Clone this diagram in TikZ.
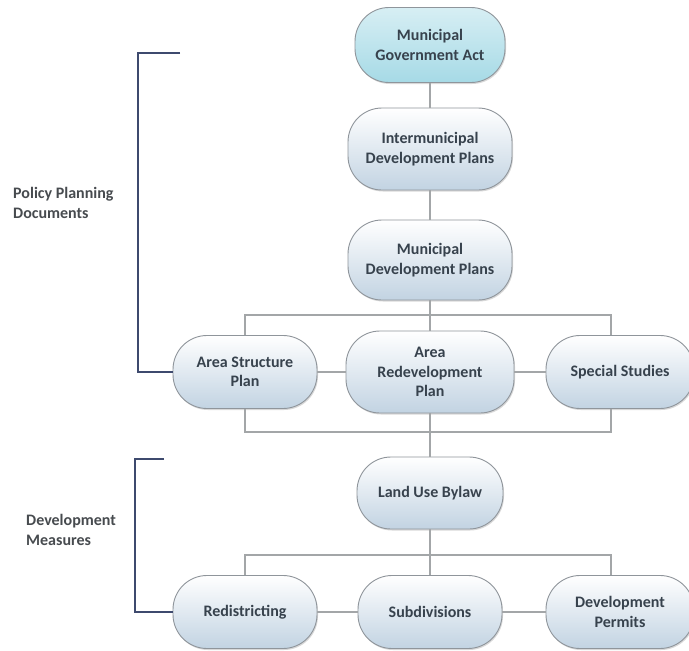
\documentclass[tikz,border=0pt]{standalone}
\usepackage{fontspec}
\setmainfont{Carlito}
\usetikzlibrary{shadows}
\definecolor{boxline}{HTML}{8F959B}
\definecolor{boxblue}{HTML}{C2D3E2}
\definecolor{boxcyan}{HTML}{A6DAE6}
\definecolor{boxtext}{HTML}{37424D}
\definecolor{linkgray}{HTML}{A3A6A8}
\definecolor{bracketblue}{HTML}{3E4A6E}
\definecolor{notegray}{HTML}{474B4F}
\begin{document}
\begin{tikzpicture}[x=1pt, y=-1pt,
    plan/.style={draw=boxline, line width=0.9pt, rounded corners=34pt,
        top color=white, bottom color=boxblue, align=center, inner sep=0pt,
        font=\bfseries\fontsize{16}{19.5}\selectfont, text=boxtext,
        minimum width=144pt, minimum height=73pt,
        drop shadow={opacity=0.3, shadow xshift=1pt, shadow yshift=-1.5pt}},
    link/.style={draw=linkgray, line width=1.3pt},
    bracket/.style={draw=bracketblue, line width=1.8pt},
    note/.style={anchor=west, align=left, inner sep=0pt, text=notegray,
        font=\bfseries\fontsize{16}{20}\selectfont}]
    \fill[white] (0,0) rectangle (689,651);
    \useasboundingbox (0,0) rectangle (689,651);
    % main column
    \node[plan, top color=white!55!boxcyan, bottom color=boxcyan,
        minimum width=150pt, minimum height=75pt] (mga) at (430,45) {Municipal\\Government Act};
    \node[plan, minimum width=164pt, minimum height=82pt] (idp) at (430,149) {Intermunicipal\\Development Plans};
    \node[plan, minimum width=164pt, minimum height=80pt] (mdp) at (430,260) {Municipal\\Development Plans};
    \node[plan] (asp) at (245,372) {Area Structure\\Plan};
    \node[plan, minimum width=168pt, minimum height=82pt] (arp) at (430,372) {Area\\Redevelopment\\Plan};
    \node[plan, minimum width=148pt] (ss) at (620,372) {Special Studies};
    \node[plan, minimum width=146pt, minimum height=72pt] (lub) at (430,493) {Land Use Bylaw};
    \node[plan] (red) at (245,612) {Redistricting};
    \node[plan] (sub) at (430,612) {Subdivisions};
    \node[plan, minimum width=148pt] (dp) at (620,612) {Development\\Permits};
    % bars
    \coordinate (t1) at (245,315);
    \coordinate (t2) at (611,315);
    \coordinate (b1) at (245,432);
    \coordinate (b2) at (611,432);
    \coordinate (c1) at (245,555);
    \coordinate (c2) at (611,555);
    \draw[link] (mga) -- (idp);
    \draw[link] (idp) -- (mdp);
    \draw[link] (mdp.south) -- (arp.north);
    \draw[link] (asp.north) -- (t1) -- (t2) -- (t2 |- ss.north);
    \draw[link] (asp) -- (arp);
    \draw[link] (arp) -- (ss);
    \draw[link] (asp.south) -- (b1) -- (b2) -- (b2 |- ss.south);
    \draw[link] (arp.south) -- (lub.north);
    \draw[link] (lub.south) -- (sub.north);
    \draw[link] (red.north) -- (c1) -- (c2) -- (c2 |- dp.north);
    \draw[link] (red) -- (sub);
    \draw[link] (sub) -- (dp);
    % brackets
    \coordinate (p1) at (180,53);
    \coordinate (p2) at (138,53);
    \coordinate (p3) at (138,372);
    \draw[bracket] (p1) -- (p2) -- (p3) -- (asp.west);
    \coordinate (d1) at (164,459);
    \coordinate (d2) at (135,459);
    \coordinate (d3) at (135,612);
    \draw[bracket] (d1) -- (d2) -- (d3) -- (red.west);
    \node[note] (policy) at (13,203) {Policy Planning\\Documents};
    \node[note] (measures) at (26,530) {Development\\Measures};
\end{tikzpicture}
\end{document}
